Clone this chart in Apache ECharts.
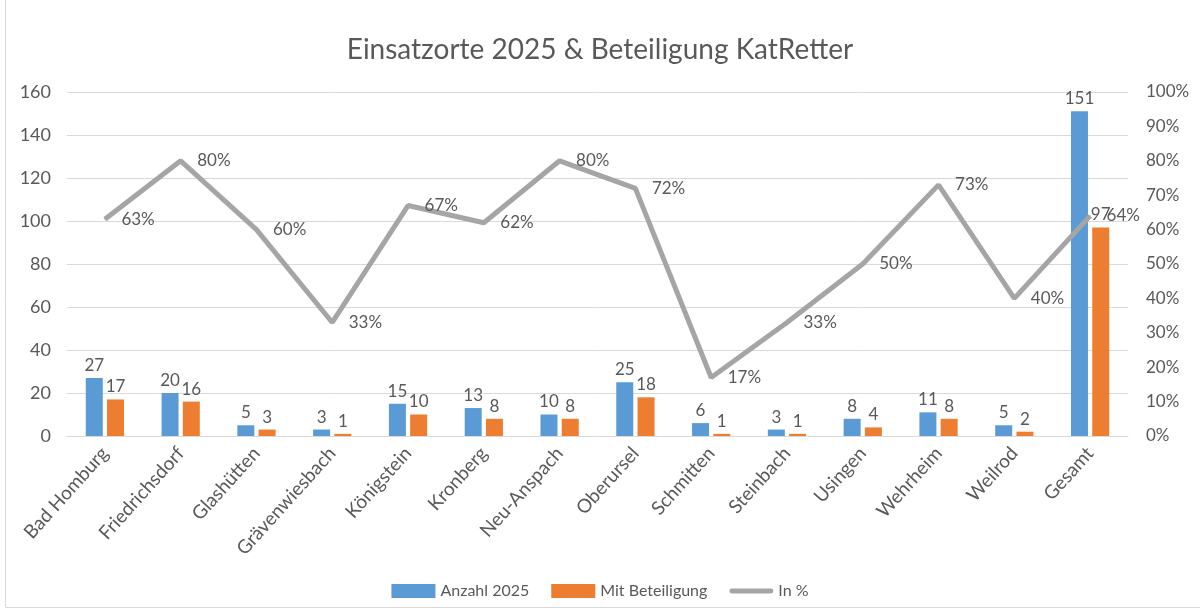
<!DOCTYPE html>
<html>
<head>
<meta charset="utf-8">
<script src="https://cdn.jsdelivr.net/npm/echarts@6/dist/echarts.min.js"></script>
<style>
  html, body { margin: 0; padding: 0; background: #fff; }
  #chart { width: 1200px; height: 616px; }
</style>
</head>
<body>
<div id="chart"></div>
<script>
var orte = ['Bad Homburg', 'Friedrichsdorf', 'Glashütten', 'Grävenwiesbach', 'Königstein', 'Kronberg',
    'Neu-Anspach', 'Oberursel', 'Schmitten', 'Steinbach', 'Usingen', 'Wehrheim', 'Weilrod', 'Gesamt'];
var anzahl = [27, 20, 5, 3, 15, 13, 10, 25, 6, 3, 8, 11, 5, 151];
var beteiligung = [17, 16, 3, 1, 10, 8, 8, 18, 1, 1, 4, 8, 2, 97];
var prozent = [0.63, 0.80, 0.60, 0.33, 0.67, 0.62, 0.80, 0.72, 0.17, 0.33, 0.50, 0.73, 0.40, 0.64];

var textColor = '#595959';
var font = 'Lato';

var chart = echarts.init(document.getElementById('chart'));
var option = {
    textStyle: { fontFamily: font },
    title: {
        text: 'Einsatzorte 2025 & Beteiligung KatRetter',
        left: 'center',
        top: 31,
        textStyle: { color: textColor, fontSize: 28, fontWeight: 'normal', fontFamily: font }
    },
    graphic: [{
        type: 'rect',
        shape: { x: 5.5, y: -2, width: 1200, height: 609.5 },
        style: { fill: 'none', stroke: '#d9d9d9', lineWidth: 1 },
        silent: true
    }],
    legend: {
        bottom: 12,
        left: 'center',
        itemWidth: 44,
        itemHeight: 14,
        itemGap: 22,
        textStyle: { color: textColor, fontSize: 16 },
        data: [
            { name: 'Anzahl 2025', icon: 'rect' },
            { name: 'Mit Beteiligung', icon: 'rect' },
            { name: 'In %', icon: 'path://M2,0 L42,0 A2,2 0 0 1 42,5 L2,5 A2,2 0 0 1 2,0 Z' }
        ]
    },
    grid: { left: 67, right: 72, top: 92, bottom: 180, containLabel: false },
    xAxis: {
        type: 'category',
        data: orte,
        axisLine: { lineStyle: { color: '#d9d9d9' } },
        axisTick: { show: false },
        axisLabel: { rotate: 48, color: textColor, fontSize: 19, margin: 14, interval: 0 }
    },
    yAxis: [{
        type: 'value',
        min: 0,
        max: 160,
        interval: 20,
        axisLine: { show: false },
        axisTick: { show: false },
        axisLabel: { color: textColor, fontSize: 18, margin: 16 },
        splitLine: { lineStyle: { color: '#d9d9d9' } }
    }, {
        type: 'value',
        min: 0,
        max: 1,
        interval: 0.1,
        axisLine: { show: false },
        axisTick: { show: false },
        axisLabel: {
            color: textColor, fontSize: 17, margin: 18,
            formatter: function (v) { return Math.round(v * 100) + '%'; }
        },
        splitLine: { show: false }
    }],
    series: [{
        name: 'Anzahl 2025',
        type: 'bar',
        data: anzahl,
        barWidth: 17,
        barGap: '25%',
        itemStyle: { color: '#5b9bd5' },
        label: { show: true, position: 'top', color: textColor, fontSize: 17, distance: 4 }
    }, {
        name: 'Mit Beteiligung',
        type: 'bar',
        data: beteiligung,
        barWidth: 17,
        itemStyle: { color: '#ed7d31' },
        label: { show: true, position: 'top', color: textColor, fontSize: 17, distance: 4 }
    }, {
        name: 'In %',
        type: 'line',
        yAxisIndex: 1,
        data: prozent,
        symbol: 'circle',
        symbolSize: 1,
        lineStyle: { color: '#a5a5a5', width: 5 },
        itemStyle: { color: '#a5a5a5' },
        label: {
            show: true, position: 'right', color: textColor, fontSize: 17, distance: 16,
            formatter: function (p) { return Math.round(p.value * 100) + '%'; }
        }
    }]
};
chart.setOption(option);
</script>
</body>
</html>
